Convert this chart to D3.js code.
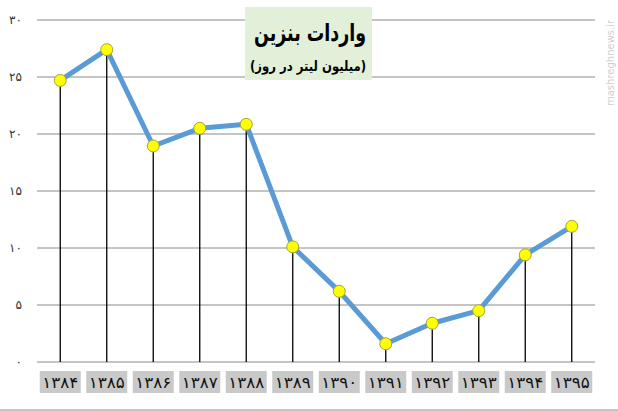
<!DOCTYPE html>
<html>
<head>
<meta charset="utf-8">
<script src="https://cdn.jsdelivr.net/npm/d3@7"></script>
<style>
  body { margin: 0; background: #fff; }
  svg { display: block; }
</style>
</head>
<body>
<svg id="chart" width="618" height="411"></svg>
<script>
// years (Persian digits) and imports, million litres per day
var years = ["۱۳۸۴", "۱۳۸۵", "۱۳۸۶", "۱۳۸۷", "۱۳۸۸", "۱۳۸۹", "۱۳۹۰", "۱۳۹۱", "۱۳۹۲", "۱۳۹۳", "۱۳۹۴", "۱۳۹۵"];
var imports = [24.7, 27.4, 18.95, 20.5, 20.85, 10.1, 6.2, 1.6, 3.4, 4.5, 9.4, 11.9];
var yTicks = [0, 5, 10, 15, 20, 25, 30];
var yTickLabels = ["۰", "۵", "۱۰", "۱۵", "۲۰", "۲۵", "۳۰"];
var title = "واردات بنزین";
var subtitle = "(میلیون لیتر در روز)";

var svg = d3.select("#chart");
var plot_left = 37, plot_right = 595, plot_top = 20, plot_bottom = 362;

var x = d3.scaleBand().domain(years).range([plot_left, plot_right]);
var y = d3.scaleLinear().domain([0, 30]).range([plot_bottom, plot_top]);
var cx = (i) => x(years[i]) + x.bandwidth() / 2;

// horizontal gridlines
svg.append("g")
  .selectAll("line")
  .data(yTicks)
  .enter()
  .append("line")
  .attr("x1", plot_left).attr("x2", plot_right)
  .attr("y1", (d) => y(d)).attr("y2", (d) => y(d))
  .attr("stroke", "#8a8a8a")
  .attr("stroke-width", 1);

// y labels
svg.append("g")
  .selectAll("text")
  .data(yTicks)
  .enter()
  .append("text")
  .attr("x", 22)
  .attr("y", (d) => y(d) + 4)
  .attr("text-anchor", "end")
  .attr("font-family", "DejaVu Sans")
  .attr("font-size", 12)
  .attr("fill", "#333")
  .text((d, i) => yTickLabels[i]);

// drop lines
svg.append("g")
  .selectAll("line")
  .data(imports)
  .enter()
  .append("line")
  .attr("x1", (d, i) => cx(i))
  .attr("x2", (d, i) => cx(i))
  .attr("y1", (d) => y(d))
  .attr("y2", y(0))
  .attr("stroke", "#000")
  .attr("stroke-width", 1.3);

// category labels on grey boxes
var lab = svg.append("g")
  .selectAll("g")
  .data(years)
  .enter()
  .append("g")
  .attr("transform", (d) => "translate(" + (x(d) + x.bandwidth() / 2) + ",0)");
lab.append("rect")
  .attr("x", -20.5).attr("y", 371)
  .attr("width", 41).attr("height", 22)
  .attr("fill", "#c9c9c9");
lab.append("text")
  .attr("x", 0).attr("y", 388)
  .attr("text-anchor", "middle")
  .attr("font-family", "DejaVu Sans")
  .attr("font-size", 16)
  .attr("fill", "#111")
  .attr("textLength", 36)
  .attr("lengthAdjust", "spacingAndGlyphs")
  .text((d) => d);

// line
var line = d3.line()
  .x((d, i) => cx(i))
  .y((d) => y(d));
svg.append("path")
  .datum(imports)
  .attr("d", line)
  .attr("fill", "none")
  .attr("stroke", "#5b9bd5")
  .attr("stroke-width", 5)
  .attr("stroke-linejoin", "round");

// markers
svg.append("g")
  .selectAll("circle")
  .data(imports)
  .enter()
  .append("circle")
  .attr("cx", (d, i) => cx(i))
  .attr("cy", (d) => y(d))
  .attr("r", 6)
  .attr("fill", "#ffff00")
  .attr("stroke", "#a4a43a")
  .attr("stroke-width", 1);

// title box
svg.append("rect")
  .attr("x", 245).attr("y", 7)
  .attr("width", 127).attr("height", 73)
  .attr("fill", "#e2efd9");
svg.append("text")
  .attr("x", 310).attr("y", 41)
  .attr("text-anchor", "middle")
  .attr("font-family", "DejaVu Sans")
  .attr("font-weight", "bold")
  .attr("font-size", 24)
  .attr("direction", "rtl")
  .attr("textLength", 112)
  .attr("lengthAdjust", "spacingAndGlyphs")
  .text(title);
svg.append("text")
  .attr("x", 308).attr("y", 71)
  .attr("text-anchor", "middle")
  .attr("font-family", "DejaVu Sans")
  .attr("font-weight", "bold")
  .attr("font-size", 14)
  .attr("direction", "rtl")
  .attr("textLength", 116)
  .attr("lengthAdjust", "spacingAndGlyphs")
  .text(subtitle);

// bottom rule
svg.append("line")
  .attr("x1", 0).attr("x2", 618)
  .attr("y1", 410).attr("y2", 410)
  .attr("stroke", "#8a8a8a")
  .attr("stroke-width", 1);

// watermark
svg.append("text")
  .attr("transform", "translate(614,106) rotate(-90)")
  .attr("font-family", "DejaVu Sans")
  .attr("font-size", 10)
  .attr("fill", "#cfcfcf")
  .text("mashreghnews.ir");
</script>
</body>
</html>
